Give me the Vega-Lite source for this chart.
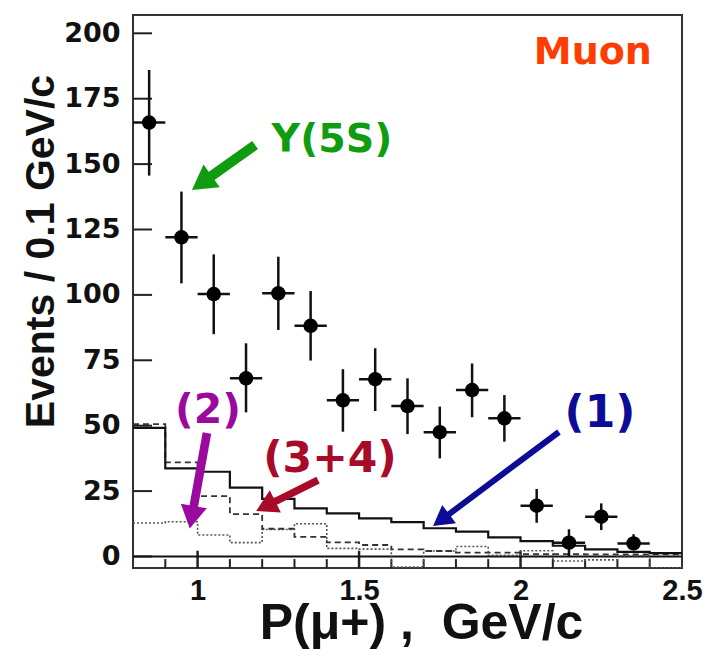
{
  "$schema": "https://vega.github.io/schema/vega-lite/v6.json",
  "width": 549,
  "height": 553,
  "autosize": "none",
  "padding": {"left": 133, "top": 15, "right": 27, "bottom": 81},
  "background": "white",
  "config": {"view": {"stroke": "#333", "strokeWidth": 2}},
  "resolve": {"scale": {"size": "independent"}},
  "datasets": {
    "points": [
      {"p": 0.85, "xlo": 0.8, "xhi": 0.9, "n": 165.9, "lo": 145.6, "hi": 186.0},
      {"p": 0.95, "xlo": 0.9, "xhi": 1.0, "n": 122.0, "lo": 104.4, "hi": 139.5},
      {"p": 1.05, "xlo": 1.0, "xhi": 1.1, "n": 100.3, "lo": 85.0, "hi": 115.5},
      {"p": 1.15, "xlo": 1.1, "xhi": 1.2, "n": 68.1, "lo": 55.1, "hi": 81.5},
      {"p": 1.25, "xlo": 1.2, "xhi": 1.3, "n": 100.6, "lo": 86.6, "hi": 114.6},
      {"p": 1.35, "xlo": 1.3, "xhi": 1.4, "n": 88.2, "lo": 74.9, "hi": 101.5},
      {"p": 1.45, "xlo": 1.4, "xhi": 1.5, "n": 59.7, "lo": 47.7, "hi": 71.6},
      {"p": 1.55, "xlo": 1.5, "xhi": 1.6, "n": 67.8, "lo": 55.6, "hi": 79.6},
      {"p": 1.65, "xlo": 1.6, "xhi": 1.7, "n": 57.5, "lo": 46.8, "hi": 68.1},
      {"p": 1.75, "xlo": 1.7, "xhi": 1.8, "n": 47.5, "lo": 37.5, "hi": 57.3},
      {"p": 1.85, "xlo": 1.8, "xhi": 1.9, "n": 63.6, "lo": 53.2, "hi": 73.8},
      {"p": 1.95, "xlo": 1.9, "xhi": 2.0, "n": 52.8, "lo": 43.9, "hi": 61.7},
      {"p": 2.05, "xlo": 2.0, "xhi": 2.1, "n": 19.4, "lo": 12.9, "hi": 25.8},
      {"p": 2.15, "xlo": 2.1, "xhi": 2.2, "n": 5.3, "lo": 0.0, "hi": 10.4},
      {"p": 2.25, "xlo": 2.2, "xhi": 2.3, "n": 15.2, "lo": 10.1, "hi": 20.3},
      {"p": 2.35, "xlo": 2.3, "xhi": 2.4, "n": 5.0, "lo": 2.5, "hi": 8.5}
    ],
    "hists": [
      {"edge": 0.8, "solid": 49.2, "dashed": 50.6, "dotted": 12.8},
      {"edge": 0.9, "solid": 33.7, "dashed": 36.0, "dotted": 13.3},
      {"edge": 1.0, "solid": 32.4, "dashed": 23.1, "dotted": 8.2},
      {"edge": 1.1, "solid": 26.3, "dashed": 16.2, "dotted": 5.3},
      {"edge": 1.2, "solid": 22.0, "dashed": 10.6, "dotted": 10.3},
      {"edge": 1.3, "solid": 18.4, "dashed": 7.5, "dotted": 12.5},
      {"edge": 1.4, "solid": 16.5, "dashed": 5.4, "dotted": 3.1},
      {"edge": 1.5, "solid": 14.6, "dashed": 4.4, "dotted": 2.8},
      {"edge": 1.6, "solid": 13.1, "dashed": 2.7, "dotted": -4.0},
      {"edge": 1.7, "solid": 10.8, "dashed": 2.1, "dotted": 2.1},
      {"edge": 1.8, "solid": 9.5, "dashed": 1.5, "dotted": 3.8},
      {"edge": 1.9, "solid": 7.3, "dashed": 1.5, "dotted": 0.5},
      {"edge": 2.0, "solid": 5.9, "dashed": 0.9, "dotted": 2.2},
      {"edge": 2.1, "solid": 4.1, "dashed": 0.9, "dotted": -1.7},
      {"edge": 2.2, "solid": 2.7, "dashed": 0.8, "dotted": -1.3},
      {"edge": 2.3, "solid": 1.8, "dashed": 0.8, "dotted": 0.3},
      {"edge": 2.4, "solid": 1.3, "dashed": 0.8, "dotted": -4.3},
      {"edge": 2.5, "solid": 1.3, "dashed": 0.8, "dotted": -4.3}
    ],
    "yticks": [{"v": 0}, {"v": 25}, {"v": 50}, {"v": 75}, {"v": 100}, {"v": 125}, {"v": 150}, {"v": 175}, {"v": 200}],
    "xminor": [{"v": 0.9}, {"v": 1.1}, {"v": 1.2}, {"v": 1.3}, {"v": 1.4}, {"v": 1.6}, {"v": 1.7}, {"v": 1.8}, {"v": 1.9}, {"v": 2.1}, {"v": 2.2}, {"v": 2.3}, {"v": 2.4}],
    "xmajor": [{"v": 1.0}, {"v": 1.5}, {"v": 2.0}],
    "arrows": [
      {"label": "Υ(5S)", "tx": 1.178, "ty": 157.3, "hx": 1.013, "hy": 142.8, "ang": 234.5},
      {"label": "(2)", "tx": 1.029, "ty": 47.2, "hx": 0.982, "hy": 15.0, "ang": 190.2},
      {"label": "(3+4)", "tx": 1.373, "ty": 29.2, "hx": 1.211, "hy": 19.2, "ang": 243.4},
      {"label": "(1)", "tx": 2.119, "ty": 47.6, "hx": 1.754, "hy": 13.9, "ang": 233.2}
    ],
    "labels": [
      {"label": "Muon", "lx": 2.224, "ly": 192.5},
      {"label": "Υ(5S)", "lx": 1.416, "ly": 159.2},
      {"label": "(2)", "lx": 1.032, "ly": 55.6},
      {"label": "(3+4)", "lx": 1.41, "ly": 37.3},
      {"label": "(1)", "lx": 2.246, "ly": 54.5}
    ]
  },
  "layer": [
    {
      "data": {"name": "yticks"},
      "mark": {"type": "rule", "color": "#222", "strokeWidth": 2},
      "encoding": {
        "x": {"datum": 0.8, "type": "quantitative", "scale": {"domain": [0.8, 2.5], "nice": false, "zero": false},
          "axis": {"values": [1, 1.5, 2, 2.5], "format": "~g", "ticks": false, "domain": false, "grid": false,
            "labelFont": "Liberation Sans", "labelFontWeight": "bold", "labelFontSize": 29, "labelColor": "#111",
            "labelPadding": 8, "labelFlush": false, "labelBaseline": "top",
            "title": "P(μ+) ,\u00a0\u00a0GeV/c", "titleFont": "Liberation Sans", "titleFontWeight": "bold", "titleFontSize": 50,
            "titleColor": "#111", "titleX": 288, "titleY": 70, "titleBaseline": "alphabetic", "titleAlign": "center"}},
        "x2": {"datum": 0.859},
        "y": {"field": "v", "type": "quantitative", "scale": {"domain": [-4.4, 207.0], "nice": false, "zero": false},
          "axis": {"values": [0, 25, 50, 75, 100, 125, 150, 175, 200], "ticks": false, "domain": false, "grid": false,
            "labelFont": "DejaVu Sans", "labelFontWeight": "bold", "labelFontSize": 27, "labelColor": "#111",
            "labelPadding": 13,
            "title": "Events / 0.1 GeV/c", "titleFont": "Liberation Sans", "titleFontWeight": "bold", "titleFontSize": 41,
            "titleColor": "#111", "titleX": -80, "titleY": 236, "titleAngle": 270, "titleBaseline": "alphabetic", "titleAlign": "center"}}
      }
    },
    {
      "data": {"name": "xminor"},
      "mark": {"type": "rule", "color": "#222", "strokeWidth": 2},
      "encoding": {"x": {"field": "v", "type": "quantitative"}, "y": {"datum": -4.4}, "y2": {"datum": -1.0}}
    },
    {
      "data": {"name": "xmajor"},
      "mark": {"type": "rule", "color": "#222", "strokeWidth": 2.5},
      "encoding": {"x": {"field": "v", "type": "quantitative"}, "y": {"datum": -4.4}, "y2": {"datum": 2.2}}
    },
    {
      "data": {"values": [{"z": 0}]},
      "mark": {"type": "rule", "color": "#111", "strokeWidth": 2},
      "encoding": {"y": {"field": "z", "type": "quantitative"}}
    },
    {
      "data": {"name": "hists"},
      "mark": {"type": "line", "interpolate": "step-after", "color": "#555", "strokeWidth": 1.6, "strokeDash": [2, 2], "clip": true},
      "encoding": {"x": {"field": "edge", "type": "quantitative"}, "y": {"field": "dotted", "type": "quantitative"}}
    },
    {
      "data": {"name": "hists"},
      "mark": {"type": "line", "interpolate": "step-after", "color": "#333", "strokeWidth": 1.8, "strokeDash": [6, 4], "clip": true},
      "encoding": {"x": {"field": "edge", "type": "quantitative"}, "y": {"field": "dashed", "type": "quantitative"}}
    },
    {
      "data": {"name": "hists"},
      "mark": {"type": "line", "interpolate": "step-after", "color": "#111", "strokeWidth": 2.2, "clip": true},
      "encoding": {"x": {"field": "edge", "type": "quantitative"}, "y": {"field": "solid", "type": "quantitative"}}
    },
    {
      "data": {"name": "points"},
      "mark": {"type": "rule", "color": "#111", "strokeWidth": 2.5},
      "encoding": {"x": {"field": "p", "type": "quantitative"}, "y": {"field": "lo", "type": "quantitative"}, "y2": {"field": "hi"}}
    },
    {
      "data": {"name": "points"},
      "mark": {"type": "rule", "color": "#111", "strokeWidth": 2.5},
      "encoding": {"x": {"field": "xlo", "type": "quantitative"}, "x2": {"field": "xhi"}, "y": {"field": "n", "type": "quantitative"}}
    },
    {
      "data": {"name": "points"},
      "mark": {"type": "point", "shape": "circle", "filled": true, "color": "#000", "opacity": 1, "size": 210},
      "encoding": {"x": {"field": "p", "type": "quantitative"}, "y": {"field": "n", "type": "quantitative"}}
    },
    {
      "data": {"name": "arrows"},
      "mark": {"type": "rule", "strokeCap": "butt"},
      "encoding": {
        "x": {"field": "tx", "type": "quantitative"}, "y": {"field": "ty", "type": "quantitative"},
        "x2": {"field": "hx"}, "y2": {"field": "hy"},
        "color": {"field": "label", "type": "nominal", "legend": null,
          "scale": {"domain": ["Muon", "Υ(5S)", "(2)", "(3+4)", "(1)"], "range": ["#ff3d00", "#109c10", "#9a0a9e", "#a80a2a", "#0c0c96"]}},
        "strokeWidth": {"field": "label", "type": "nominal", "legend": null,
          "scale": {"domain": ["Υ(5S)", "(2)", "(3+4)", "(1)"], "range": [10, 6, 8, 9]}}
      }
    },
    {
      "data": {"name": "arrows"},
      "mark": {"type": "point", "shape": "triangle-up", "filled": true, "opacity": 1},
      "encoding": {
        "x": {"field": "hx", "type": "quantitative"}, "y": {"field": "hy", "type": "quantitative"},
        "angle": {"field": "ang", "type": "quantitative", "scale": null},
        "color": {"field": "label", "type": "nominal", "legend": null},
        "size": {"field": "label", "type": "nominal", "legend": null,
          "scale": {"domain": ["Υ(5S)", "(2)", "(3+4)", "(1)"], "range": [784, 530, 625, 676]}}
      }
    },
    {
      "data": {"name": "labels"},
      "mark": {"type": "text", "font": "DejaVu Sans", "fontWeight": "bold", "align": "center", "baseline": "middle"},
      "encoding": {
        "x": {"field": "lx", "type": "quantitative"}, "y": {"field": "ly", "type": "quantitative"},
        "text": {"field": "label"},
        "color": {"field": "label", "type": "nominal", "legend": null},
        "size": {"field": "label", "type": "nominal", "legend": null,
          "scale": {"domain": ["Muon", "Υ(5S)", "(2)", "(3+4)", "(1)"], "range": [38, 44, 36, 35, 35]}}
      }
    }
  ]
}
